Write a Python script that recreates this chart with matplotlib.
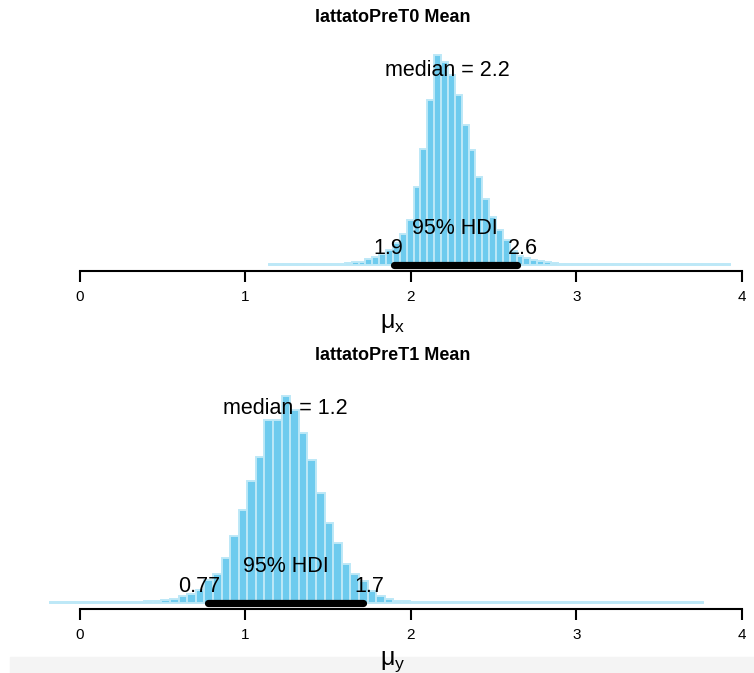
import numpy as np
import matplotlib.pyplot as plt
from matplotlib.patches import Rectangle

plt.rcParams['font.family'] = ['Liberation Sans', 'DejaVu Sans']
plt.rcParams['mathtext.fontset'] = 'custom'
plt.rcParams['mathtext.rm'] = 'Liberation Sans'
plt.rcParams['mathtext.it'] = 'Liberation Sans'

# --- datos ---
titles = ['lattatoPreT0 Mean', 'lattatoPreT1 Mean']
xlabels = [r'$\mathregular{\mu_x}$', r'$\mathregular{\mu_y}$']

# primer borde de bin y anchura de bin (HDI/18)
start0, width0 = 1.144, 0.0415
heights0 = [1]*11 + [2, 3, 3, 6, 8, 11, 15, 22, 31, 45, 78, 116, 165, 210,
            203, 190, 170, 140, 115, 88, 66, 48, 35, 25, 14, 9, 7, 5, 4, 3, 2] + [1]*25
median0 = 2.22
hdi0 = [1.897, 2.638]

start1, width1 = -0.183, 0.0519
heights1 = [1]*11 + [2, 2, 3, 4, 7, 9, 13, 23, 29, 45, 67, 93, 122, 146, 183, 183, 207,
            193, 170, 143, 110, 80, 60, 39, 29, 22, 12, 7, 4, 2, 2] + [1]*34
median1 = 1.24
hdi1 = [0.774, 1.710]

ticks = [0, 1, 2, 3, 4]

fig = plt.figure(figsize=(7.54, 6.73), dpi=100)
W, H = 754, 673
# franja gris de la captura
fig.patches.append(Rectangle((10/W, 0), 1, 16/H, transform=fig.transFigure,
                             color='#F4F4F4', zorder=-5))

def panel(bottom_px, start, width, heights, median, hdi, title, xlabel):
    ax = fig.add_axes([32/W, 1 - bottom_px/H, 722/W, 226/H])
    ax.patch.set_alpha(0)
    edges = start + width*np.arange(len(heights))
    ax.bar(edges, heights, width=width, align='edge', color='#6ECBEE',
           edgecolor='#BDE8F7', linewidth=1.4)
    ax.plot(hdi, [0, 0], color='black', lw=5.2, solid_capstyle='round')
    ax.set_xlim((32-80)/165.5, (754-80)/165.5)
    ax.set_ylim(-6, 220)
    for s in ['top', 'right', 'left']:
        ax.spines[s].set_visible(False)
    ax.spines['bottom'].set_bounds(0, 4)
    ax.spines['bottom'].set_linewidth(1.5)
    ax.set_yticks([])
    ax.set_xticks(ticks)
    ax.set_xticklabels([str(t) for t in ticks], fontsize=11,
                       family=['Liberation Sans Narrow', 'Liberation Sans'])
    ax.tick_params(axis='x', length=8, width=1.5, pad=6)
    ax.set_xlabel(xlabel, fontsize=18, labelpad=5)
    ax.text(median, 194, f'median = {median:.1f}', fontsize=15.5, ha='center', va='center')
    ax.text(np.mean(hdi), 36, '95% HDI', fontsize=15.5, ha='center', va='center')
    ax.text(hdi[0], 16, f'{hdi[0]:.2g}', fontsize=15.5, ha='center', va='center')
    ax.text(hdi[1], 16, f'{hdi[1]:.2g}', fontsize=15.5, ha='center', va='center')
    fig.text(393/W, 1 - (bottom_px - 253)/H, title, fontsize=13, fontweight='bold',
             ha='center', va='center')
    return ax

ax1 = panel(271, start0, width0, heights0, median0, hdi0, titles[0], xlabels[0])
ax2 = panel(609, start1, width1, heights1, median1, hdi1, titles[1], xlabels[1])

# anclaje de las etiquetas HDI como en R (adj = 0.7 / 0.3)
r = fig.canvas.get_renderer()
for ax in (ax1, ax2):
    for t, frac in ((ax.texts[2], 0.7), (ax.texts[3], 0.3)):
        bb = t.get_window_extent(r)
        x_disp = ax.transData.transform((t.get_position()[0], 0))[0]
        shift = (0.5 - frac)*bb.width
        xnew = ax.transData.inverted().transform((x_disp + shift, 0))[0]
        t.set_x(xnew)

fig.savefig('out.png', dpi=100)
